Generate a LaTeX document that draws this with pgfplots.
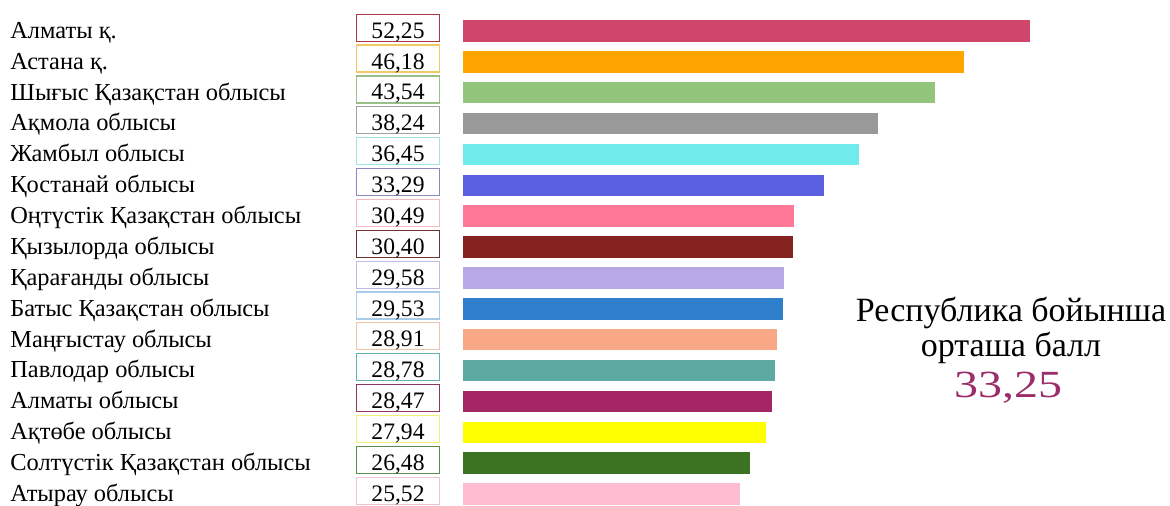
\documentclass[border=0pt]{standalone}
\usepackage{pgfplots}
\pgfplotsset{compat=1.18}
\usepackage{fontspec}
\usepackage{graphicx}
\setmainfont{Liberation Serif}

\definecolor{c1}{HTML}{D0456A}\definecolor{b1}{HTML}{A83848}
\definecolor{c2}{HTML}{FFA500}\definecolor{b2}{HTML}{F2C865}
\definecolor{c3}{HTML}{92C47C}\definecolor{b3}{HTML}{98C088}
\definecolor{c4}{HTML}{999999}\definecolor{b4}{HTML}{A0A0A0}
\definecolor{c5}{HTML}{70EBEB}\definecolor{b5}{HTML}{A0E4E4}
\definecolor{c6}{HTML}{5A5EE0}\definecolor{b6}{HTML}{8C88C0}
\definecolor{c7}{HTML}{FF7896}\definecolor{b7}{HTML}{F2B8C4}
\definecolor{c8}{HTML}{84221F}\definecolor{b8}{HTML}{6E3434}
\definecolor{c9}{HTML}{B9A8E8}\definecolor{b9}{HTML}{C4B8E4}
\definecolor{c10}{HTML}{2F7FCC}\definecolor{b10}{HTML}{A8CCE8}
\definecolor{c11}{HTML}{F8A885}\definecolor{b11}{HTML}{F0C4AC}
\definecolor{c12}{HTML}{5DAAA2}\definecolor{b12}{HTML}{64B0B4}
\definecolor{c13}{HTML}{A52664}\definecolor{b13}{HTML}{903464}
\definecolor{c14}{HTML}{FFFF00}\definecolor{b14}{HTML}{F0F07C}
\definecolor{c15}{HTML}{3B7322}\definecolor{b15}{HTML}{5C8A50}
\definecolor{c16}{HTML}{FFBBD0}\definecolor{b16}{HTML}{F0C4D0}
\definecolor{avg}{HTML}{9B2D68}

% idx, value, printed value, bar colour, box colour, name
\newcommand\myrow[6]{%
  \addplot[xbar, bar shift=0pt, bar width=10.75pt, fill=#4, draw=none] coordinates {(#2,#1)};
  \addplot[draw=none, nodes near coords={#3},
    every node near coord/.style={anchor=base, yshift=-3.6pt, draw=#5, line width=0.6pt,
      inner sep=0pt, minimum width=41.5pt, text height=12pt, text depth=1.5pt,
      align=center, text width=41.5pt, font=\fontsize{11.8pt}{13pt}\selectfont}]
    coordinates {(-5.99,#1)};
  \addplot[draw=none, nodes near coords={#6},
    every node near coord/.style={anchor=base west, yshift=-3.7pt, inner sep=0pt,
      font=\fontsize{12.2pt}{14pt}\selectfont}]
    coordinates {(-41.75,#1)};
}

\begin{document}
\begin{tikzpicture}
\path[use as bounding box] (0,0) rectangle (585pt,253pt);
\begin{axis}[
  width=585pt, height=253pt, scale only axis,
  xmin=-42.67, xmax=65.16, ymin=-1.004, ymax=15.387,
  y dir=reverse, hide axis, clip=false]
\myrow{0}{52.25}{52,25}{c1}{b1}{Алматы қ.}
\myrow{1}{46.18}{46,18}{c2}{b2}{Астана қ.}
\myrow{2}{43.54}{43,54}{c3}{b3}{Шығыс Қазақстан облысы}
\myrow{3}{38.24}{38,24}{c4}{b4}{Ақмола облысы}
\myrow{4}{36.45}{36,45}{c5}{b5}{Жамбыл облысы}
\myrow{5}{33.29}{33,29}{c6}{b6}{Қостанай облысы}
\myrow{6}{30.49}{30,49}{c7}{b7}{Оңтүстік Қазақстан облысы}
\myrow{7}{30.40}{30,40}{c8}{b8}{Қызылорда облысы}
\myrow{8}{29.58}{29,58}{c9}{b9}{Қарағанды облысы}
\myrow{9}{29.53}{29,53}{c10}{b10}{Батыс Қазақстан облысы}
\myrow{10}{28.91}{28,91}{c11}{b11}{Маңғыстау облысы}
\myrow{11}{28.78}{28,78}{c12}{b12}{Павлодар облысы}
\myrow{12}{28.47}{28,47}{c13}{b13}{Алматы облысы}
\myrow{13}{27.94}{27,94}{c14}{b14}{Ақтөбе облысы}
\myrow{14}{26.48}{26,48}{c15}{b15}{Солтүстік Қазақстан облысы}
\myrow{15}{25.52}{25,52}{c16}{b16}{Атырау облысы}
\end{axis}
\node[anchor=base, inner sep=0pt, font=\fontsize{17pt}{20pt}\selectfont] at (505.5pt,92.2pt) {Республика бойынша};
\node[anchor=base, inner sep=0pt, font=\fontsize{17pt}{20pt}\selectfont] at (505.5pt,74.7pt) {орташа балл};
\node[anchor=base, inner sep=0pt, text=avg, font=\fontsize{19.2pt}{22pt}\selectfont] at (504pt,54pt) {\scalebox{1.25}[1]{33,25}};
\end{tikzpicture}
\end{document}
